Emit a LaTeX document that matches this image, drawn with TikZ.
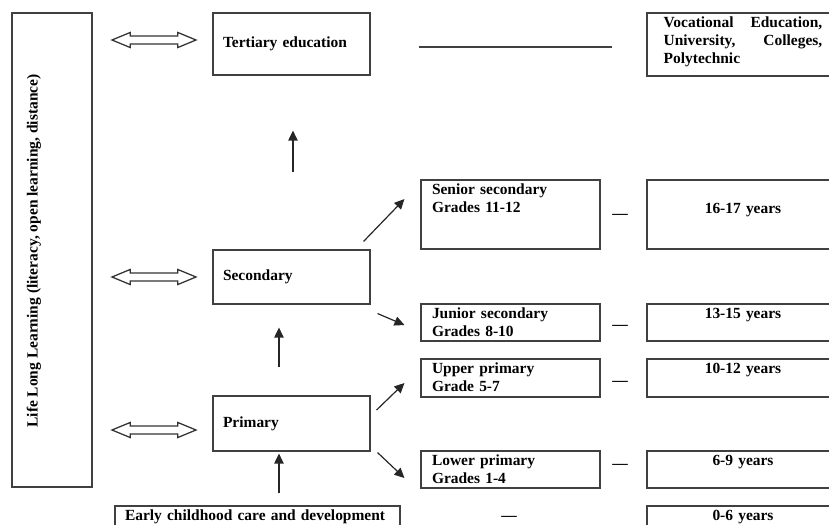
\documentclass[tikz,border=0pt]{standalone}
\usepackage{fontspec}
\setmainfont{Liberation Serif}
\usetikzlibrary{shapes,arrows.meta,positioning,calc}

\begin{document}
\begin{tikzpicture}[
    x=0.75pt, y=0.75pt,
    font=\bfseries\fontsize{11.6}{13.4}\selectfont,
    lifeBox/.style={
        rectangle, draw=black!75, line width=0.8pt,
        minimum width=60pt, minimum height=355.5pt, inner sep=0pt
    },
    levelBox/.style={
        rectangle, draw=black!75, line width=0.8pt,
        minimum width=117.75pt, text width=102.75pt, inner xsep=7.5pt, inner ysep=1pt, align=left
    },
    gradeBox/.style={
        rectangle, draw=black!75, line width=0.8pt,
        minimum width=134.25pt, text width=117.75pt, inner xsep=8.25pt, inner ysep=1pt, align=left,
        text height=10pt
    },
    ageBox/.style={
        rectangle, draw=black!75, line width=0.8pt,
        minimum width=144pt, text width=124.5pt, inner xsep=9.75pt, inner ysep=1pt, align=center,
        text height=10pt
    },
    wayArrow/.style={
        shape=double arrow, draw=black!80, line width=0.95pt, fill=white,
        minimum height=63pt, minimum width=10.5pt, inner xsep=0pt, inner ysep=2.6pt,
        double arrow head extend=2.6pt, double arrow tip angle=45
    },
    stepArrow/.style={
        -{Triangle[length=7.5pt, width=7pt]}, line width=0.9pt, draw=black!85
    },
    gapDash/.style={inner sep=0pt},
    plainLine/.style={line width=0.9pt, draw=black!75}
]

\path[use as bounding box, clip] (0,0) rectangle (829,-525);

% Left column: life long learning
\node[lifeBox] (life) at (52,-250) {};
\node[rotate=90] (lifeText) at (34,-251) {Life Long Learning (literacy, open learning, distance)};

% Main levels
\node[levelBox, minimum height=46.5pt] (tertiary) at (291.5,-44) {Tertiary education};
\node[levelBox, minimum height=40.5pt] (secondary) at (291.5,-277) {Secondary};
\node[levelBox, minimum height=41.25pt] (primary) at (291.5,-423.5) {Primary};
\node[levelBox, minimum width=213.75pt, text width=198.75pt, text height=10pt, text depth=15.75pt] (early) at (257.5,-524.5) {Early childhood care and development};

% Double arrows to the life long learning column
\node[wayArrow] (wayTertiary) at (154,-40) {};
\node[wayArrow] (waySecondary) at (154,-277) {};
\node[wayArrow] (wayPrimary) at (154,-430) {};

% Grades
\node[gradeBox, text depth=39.75pt] (senior) at (510.5,-214.5) {Senior secondary\\Grades 11-12};
\node[gradeBox, text depth=15.75pt] (junior) at (510.5,-322.5) {Junior secondary\\Grades 8-10};
\node[gradeBox, text depth=16.5pt] (upper) at (510.5,-378) {Upper primary\\Grade 5-7};
\node[gradeBox, text depth=15.75pt] (lower) at (510.5,-469.5) {Lower primary\\Grades 1-4};

% Ages
\node[ageBox, align=left, text width=119pt, text depth=35.25pt] (vocational) at (743,-44.5) {Vocational\hfill Education,\\University,\hfill Colleges,\\Polytechnic};
\node[ageBox, minimum height=51.75pt, text depth=11pt] (age16) at (743,-214.5) {16-17 years};
\node[ageBox, text depth=15.75pt] (age13) at (743,-322.5) {13-15 years};
\node[ageBox, text depth=16.5pt] (age10) at (743,-378) {10-12 years};
\node[ageBox, text depth=15.75pt] (age6) at (743,-469.5) {6-9 years};
\node[ageBox, text depth=15.75pt] (age0) at (743,-524.5) {0-6 years};

% Dashes between grades and ages
\node[gapDash] (dashSenior) at (620,-216.5) {—};
\node[gapDash] (dashJunior) at (620,-327) {—};
\node[gapDash] (dashUpper) at (620,-383) {—};
\node[gapDash] (dashLower) at (620,-466.5) {—};
\node[gapDash] (dashEarly) at (509,-518.5) {—};

% Line from tertiary to vocational
\draw[plainLine, shorten <=36pt, shorten >=25.5pt] ([yshift=-2.25pt]tertiary.east) -- ([yshift=-2.25pt]tertiary.east -| vocational.west);

% Upward arrows
\draw[stepArrow, shorten <=9pt, shorten >=1.5pt] ([xshift=-9.4pt]primary.south |- early.north) -- ([xshift=-9.4pt]primary.south);
\draw[stepArrow, shorten <=21pt, shorten >=17.25pt] ([xshift=-9.4pt]primary.north) -- ([xshift=-9.4pt]secondary.south);
\draw[stepArrow, shorten <=57.75pt, shorten >=41.25pt] ([xshift=1.1pt]secondary.north) -- ([xshift=1.1pt]tertiary.south);

% Diagonal arrows to grades
\draw[stepArrow] ([shift={(-5.25pt,6pt)}]secondary.north east) -- ([shift={(-12pt,11.6pt)}]senior.west);
\draw[stepArrow] ([shift={(5.25pt,-6.75pt)}]secondary.south east) -- ([shift={(-12pt,-1.9pt)}]junior.west);
\draw[stepArrow] ([shift={(4.5pt,10.1pt)}]primary.east) -- ([shift={(-12pt,-3.75pt)}]upper.west);
\draw[stepArrow] ([shift={(5.25pt,-0.75pt)}]primary.south east) -- ([shift={(-12pt,-6.4pt)}]lower.west);

\end{tikzpicture}
\end{document}
